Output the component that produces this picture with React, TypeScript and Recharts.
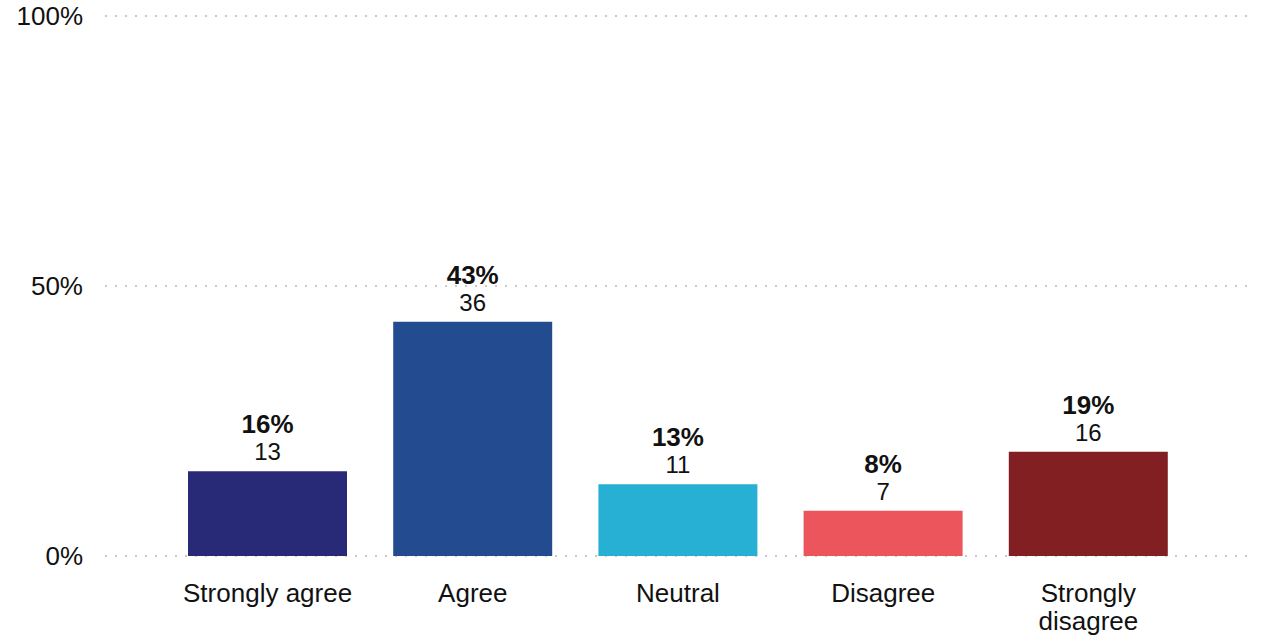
import { BarChart, Bar, XAxis, YAxis, CartesianGrid, Cell, LabelList } from "recharts";

const categories = ["Strongly agree", "Agree", "Neutral", "Disagree", "Strongly disagree"];
const shares = [15.7, 43.4, 13.3, 8.4, 19.3];
const counts = [13, 36, 11, 7, 16];
const shareLabels = ["16%", "43%", "13%", "8%", "19%"];
const yTicks = [0, 50, 100];
const COLORS = ["#292a77", "#234b8f", "#27b0d3", "#ec555b", "#821f23"];

const FONT = "'Liberation Sans', Arial, sans-serif";

const data = categories.map((name, i) => ({
  name,
  share: shares[i],
  count: counts[i],
  label: shareLabels[i],
}));

// break a label into lines no wider than maxWidth (canvas measure)
function wrapLabel(label: string, maxWidth: number, font: string) {
  const ctx = document.createElement("canvas").getContext("2d");
  if (!ctx) return [label];
  ctx.font = font;
  const words = label.split(" ");
  const lines: string[] = [];
  let cur = "";
  words.forEach((w) => {
    const next = cur ? cur + " " + w : w;
    if (cur && ctx.measureText(next).width > maxWidth) {
      lines.push(cur);
      cur = w;
    } else {
      cur = next;
    }
  });
  if (cur) lines.push(cur);
  return lines;
}

function CategoryTick(props: any) {
  const { x, y, payload } = props;
  const lines = wrapLabel(payload.value, 190, `26px ${FONT}`);
  return (
    <text x={x} y={y + 46} textAnchor="middle" fontSize={26} fontFamily={FONT} fill="#111">
      {lines.map((l, i) => (
        <tspan key={i} x={x} dy={i === 0 ? 0 : 28}>
          {l}
        </tspan>
      ))}
    </text>
  );
}

function BarLabel(props: any) {
  const { x, y, width, index } = props;
  const cx = x + width / 2;
  return (
    <g fontFamily={FONT} fill="#111" textAnchor="middle">
      <text x={cx} y={y - 38} fontSize={26} fontWeight="bold">
        {shareLabels[index]}
      </text>
      <text x={cx} y={y - 11} fontSize={24}>
        {counts[index]}
      </text>
    </g>
  );
}

export default function App() {
  return (
    <div style={{ position: "absolute", left: 0, top: 0, width: 1269, height: 636, background: "#fff" }}>
      <BarChart width={1269} height={636} data={data} margin={{ top: 16, right: 21, bottom: 0, left: 0 }}>
        <CartesianGrid vertical={false} stroke="#c8c8c8" strokeWidth={2} strokeDasharray="2 8" />
        <XAxis
          dataKey="name"
          axisLine={false}
          tickLine={false}
          tickSize={0}
          tickMargin={0}
          height={80}
          padding={{ left: 60, right: 57 }}
          interval={0}
          tick={<CategoryTick />}
        />
        <YAxis
          domain={[0, 100]}
          ticks={yTicks}
          width={105}
          axisLine={false}
          tickLine={false}
          tickSize={0}
          tickMargin={22}
          tickFormatter={(v: number) => `${v}%`}
          tick={{ fontSize: 26, fontFamily: FONT, fill: "#111" }}
        />
        <Bar dataKey="share" barSize={159} isAnimationActive={false}>
          {data.map((_, i) => (
            <Cell key={i} fill={COLORS[i]} />
          ))}
          <LabelList dataKey="count" content={<BarLabel />} />
        </Bar>
      </BarChart>
    </div>
  );
}
